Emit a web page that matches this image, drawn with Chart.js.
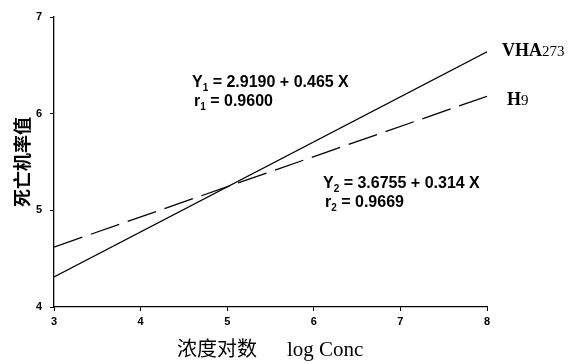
<!DOCTYPE html>
<html>
<head>
<meta charset="utf-8">
<script src="https://cdn.jsdelivr.net/npm/chart.js@4/dist/chart.umd.min.js"></script>
<style>
  html, body { margin: 0; padding: 0; background: #fff; }
  #wrap { width: 569px; height: 364px; }
</style>
</head>
<body>
<div id="wrap"><canvas id="grafico" width="569" height="364"></canvas></div>
<script>
// dados
const xPontos = [3, 8];
const vha273 = [4.31, 6.64];
const h9 = [4.62, 6.18];
const xTicks = [3, 4, 5, 6, 7, 8];
const yTicks = [4, 5, 6, 7];

// textos soltos (anotações, rótulos das linhas, títulos dos eixos)
const textos = {
    y1: ['Y', '1', ' = 2.9190 + 0.465 X'],
    r1: ['r', '1', ' = 0.9600'],
    y2: ['Y', '2', ' = 3.6755 + 0.314 X'],
    r2: ['r', '2', ' = 0.9669'],
    tituloX: ['浓度对数', 'log Conc'],
    tituloY: '死亡机率值'
};

function comSubscrito(ctx, partes, x, y) {
    ctx.font = 'bold 16px "Liberation Sans", Arial, sans-serif';
    ctx.fillText(partes[0], x, y);
    let w = ctx.measureText(partes[0]).width;
    ctx.font = 'bold 10px "Liberation Sans", Arial, sans-serif';
    ctx.fillText(partes[1], x + w, y + 4);
    w += ctx.measureText(partes[1]).width;
    ctx.font = 'bold 16px "Liberation Sans", Arial, sans-serif';
    ctx.fillText(partes[2], x + w, y);
}

const textosPlugin = {
    id: 'textos',
    afterDraw(chart) {
        const ctx = chart.ctx;
        ctx.save();
        ctx.fillStyle = '#000';
        ctx.textBaseline = 'alphabetic';
        ctx.textAlign = 'left';

        comSubscrito(ctx, textos.y1, 192, 87);
        comSubscrito(ctx, textos.r1, 194, 106);
        comSubscrito(ctx, textos.y2, 323, 188);
        comSubscrito(ctx, textos.r2, 325, 207);

        // rótulos das linhas
        ctx.font = 'bold 18px "Liberation Serif", "Times New Roman", serif';
        ctx.fillText('VHA', 502, 56);
        let w = ctx.measureText('VHA').width;
        ctx.font = '15px "Liberation Serif", "Times New Roman", serif';
        ctx.fillText('273', 502 + w, 56);
        ctx.font = 'bold 18px "Liberation Serif", "Times New Roman", serif';
        ctx.fillText('H', 507, 105);
        w = ctx.measureText('H').width;
        ctx.font = '15px "Liberation Serif", "Times New Roman", serif';
        ctx.fillText('9', 507 + w, 105);

        // título do eixo X
        ctx.font = '20px "Noto Sans CJK SC", sans-serif';
        ctx.fillText(textos.tituloX[0], 177, 356);
        ctx.font = '21px "Liberation Serif", "Times New Roman", serif';
        ctx.fillText(textos.tituloX[1], 287, 356);

        // título do eixo Y
        ctx.translate(29, 162);
        ctx.rotate(-Math.PI / 2);
        ctx.textAlign = 'center';
        ctx.font = 'bold 18px "Noto Sans CJK SC", sans-serif';
        ctx.fillText(textos.tituloY, 0, 0);
        ctx.restore();
    }
};

const fonteTicks = { family: '"Liberation Sans", Arial, sans-serif', size: 11, weight: 'bold' };

new Chart(document.getElementById('grafico'), {
    type: 'scatter',
    data: {
        datasets: [
            {
                label: 'VHA273',
                data: xPontos.map((x, i) => ({ x, y: vha273[i] })),
                showLine: true,
                borderColor: '#000',
                borderWidth: 1.3,
                pointRadius: 0
            },
            {
                label: 'H9',
                data: xPontos.map((x, i) => ({ x, y: h9[i] })),
                showLine: true,
                borderColor: '#000',
                borderWidth: 1.3,
                borderDash: [30, 9],
                pointRadius: 0
            }
        ]
    },
    options: {
        responsive: false,
        animation: false,
        layout: { padding: { top: 17, right: 82, left: 0, bottom: 0 } },
        plugins: {
            legend: { display: false },
            tooltip: { enabled: false }
        },
        scales: {
            x: {
                type: 'linear',
                min: 3,
                max: 8,
                afterBuildTicks: ax => { ax.ticks = xTicks.map(v => ({ value: v })); },
                afterFit: ax => { ax.height = 57; },
                grid: { drawOnChartArea: false, tickLength: 4, color: '#000' },
                border: { color: '#000', width: 1.3 },
                ticks: { color: '#000', font: fonteTicks, padding: 4 }
            },
            y: {
                type: 'linear',
                min: 4,
                max: 7,
                afterBuildTicks: ax => { ax.ticks = yTicks.map(v => ({ value: v })); },
                afterFit: ax => { ax.width = 54; },
                grid: { drawOnChartArea: false, tickLength: 4, color: '#000' },
                border: { color: '#000', width: 1.3 },
                ticks: { color: '#000', font: fonteTicks, padding: 8 }
            }
        }
    },
    plugins: [textosPlugin]
});
</script>
</body>
</html>
